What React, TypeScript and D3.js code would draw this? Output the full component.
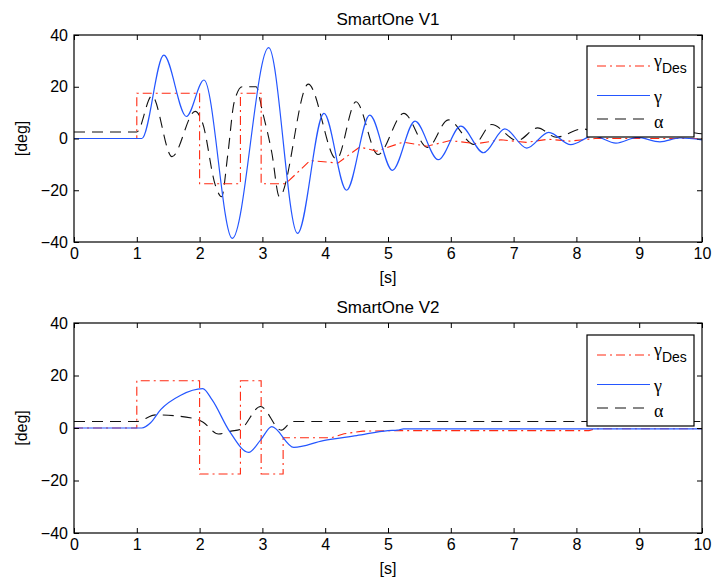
import { useRef, useEffect } from "react";
import * as d3 from "d3";

type Pt = [number, number];

const timeTicks = [0, 1, 2, 3, 4, 5, 6, 7, 8, 9, 10];
const degTicks = [-40, -20, 0, 20, 40];
const panelTitles = ["SmartOne V1", "SmartOne V2"];
const legendNames = ["γ", "γ", "α"];

// SmartOne V1 -- desired path angle, path angle, angle of attack  [t (s), deg]
const v1Des: Pt[] = [
  [0, 0], [1, 0], [1, 17.5], [2, 17.5], [2, -17.5], [2.65, -17.5], [2.65, 17.5],
  [2.98, 17.5], [2.98, -17.5], [3.37, -17.5], [3.76, -8.5], [4.2, -9.5], [4.55, -3.3],
  [4.82, -4.9], [5.24, -1.4], [5.62, -3], [5.99, -0.8], [6.41, -2], [6.8, -0.5],
  [7.2, -1.5], [7.55, -0.3], [7.9, -1], [8.3, 0], [10, 0],
];
const v1Gamma: Pt[] = [
  [0, 0], [1.08, 0], [1.43, 32.2], [1.79, 8.5], [2.07, 22.6], [2.52, -38.6], [3.1, 35.1],
  [3.56, -36.7], [3.98, 9.7], [4.34, -20], [4.71, 9], [5.07, -12.3], [5.43, 6.7],
  [5.8, -8.2], [6.16, 4.8], [6.52, -5.5], [6.86, 3.7], [7.21, -3.7], [7.56, 2.4],
  [7.91, -2.4], [8.27, 1.0], [8.63, -1.8], [8.97, 0.4], [9.33, -1.3], [9.65, 0.2], [10, -0.5],
];
const v1Alpha: Pt[] = [
  [0, 2.5], [1.0, 2.5], [1.24, 16.5], [1.56, -7], [1.93, 10.5], [2.05, 5.8], [2.25, -18],
  [2.35, -22.5], [2.45, -6], [2.55, 14], [2.68, 20], [2.9, 20], [3.0, 10.5], [3.15, -5.5],
  [3.27, -22.5], [3.73, 21], [4.18, -8], [4.49, 14.2], [4.84, -6.2], [5.25, 9.7],
  [5.63, -3.5], [5.96, 7.2], [6.37, -2.3], [6.65, 5.4], [7.06, -0.8], [7.38, 4.1],
  [7.68, 0.5], [8.1, 3.7], [8.5, 1], [8.9, 3], [9.3, 1.5], [9.7, 2.5], [10, 1.8],
];

// SmartOne V2
const v2Des: Pt[] = [
  [0, 0], [1, 0], [1, 18], [2, 18], [2, -17.5], [2.65, -17.5], [2.65, 18], [2.98, 18],
  [2.98, -17.5], [3.33, -17.5], [3.33, -3.7], [4.1, -3.7], [4.3, -2.2], [4.6, -1.2],
  [5.2, -1], [8.2, -1], [8.3, -0.3], [10, -0.3],
];
const v2Gamma: Pt[] = [
  [0, 0], [1.08, 0], [1.22, 2], [1.38, 7], [1.7, 12.5], [2.05, 15], [2.2, 10.7],
  [2.48, -1.4], [2.78, -9.3], [2.97, -4.6], [3.15, 0.5], [3.5, -7.4], [3.97, -4.8],
  [4.5, -2.9], [5.0, -1.0], [5.15, -0.8], [5.25, -0.3], [10, -0.3],
];
const v2Alpha: Pt[] = [
  [0, 2.5], [1.0, 2.5], [1.3, 5.0], [1.9, 3.7], [2.05, 2.3], [2.3, -2.3], [2.5, -1.2],
  [2.65, -0.5], [2.97, 8.2], [3.3, -0.8], [3.48, 2.5], [10, 2.5],
];

const App = () => {
  const container = useRef<SVGSVGElement>(null);
  useEffect(() => {
    createChart();
  });

  const createChart = () => {
    const svg = d3.select(container.current);
    svg.selectAll("*").remove();

    const font = "'Liberation Sans', Arial, Helvetica, sans-serif";
    const serif = "'Liberation Serif', 'Times New Roman', serif";
    const red = "#ff2a12";
    const blue = "#2456ff";

    const left = 74;
    const right = 702;

    const panels = [
      { top: 35, bottom: 242, des: v1Des, gamma: v1Gamma, alpha: v1Alpha, legTop: 46 },
      { top: 323, bottom: 533, des: v2Des, gamma: v2Gamma, alpha: v2Alpha, legTop: 335 },
    ];

    const xScale = d3.scaleLinear().domain([0, 10]).range([left, right]);

    const styles = [
      { color: red, dash: "9,4,2,4", width: 1.1 },
      { color: blue, dash: null, width: 1.2 },
      { color: "#111", dash: "11,7", width: 1.1 },
    ];

    panels.forEach((p, i) => {
      const yScale = d3.scaleLinear().domain([-40, 40]).range([p.bottom, p.top]);
      const g = svg.append("g").attr("class", `panel-${i}`);

      g.append("clipPath")
        .attr("id", `clip-${i}`)
        .append("rect")
        .attr("x", left)
        .attr("y", p.top)
        .attr("width", right - left)
        .attr("height", p.bottom - p.top);

      const plot_g = g.append("g").attr("clip-path", `url(#clip-${i})`);

      const stepLine = d3
        .line<Pt>()
        .x((d) => xScale(d[0]))
        .y((d) => yScale(d[1]));
      const smoothLine = d3
        .line<Pt>()
        .x((d) => xScale(d[0]))
        .y((d) => yScale(d[1]))
        .curve(d3.curveMonotoneX);

      const series = [
        { data: p.des, gen: stepLine },
        { data: p.gamma, gen: smoothLine },
        { data: p.alpha, gen: smoothLine },
      ];

      // alpha drawn first so gamma sits on top, like the original
      [2, 0, 1].forEach((k) => {
        plot_g
          .append("path")
          .datum(series[k].data)
          .attr("d", series[k].gen)
          .attr("fill", "none")
          .attr("stroke", styles[k].color)
          .attr("stroke-width", styles[k].width)
          .attr("stroke-dasharray", styles[k].dash);
      });

      // axes with inward ticks on all four sides
      const xaxis = d3.axisBottom(xScale).tickValues(timeTicks).tickSizeInner(-5).tickSizeOuter(0).tickPadding(6).tickFormat(d3.format("d"));
      const xaxisTop = d3.axisTop(xScale).tickValues(timeTicks).tickSizeInner(-5).tickSizeOuter(0).tickFormat(() => "");
      const yaxis = d3.axisLeft(yScale).tickValues(degTicks).tickSizeInner(-5).tickSizeOuter(0).tickPadding(6).tickFormat(d3.format("d"));
      const yaxisRight = d3.axisRight(yScale).tickValues(degTicks).tickSizeInner(-5).tickSizeOuter(0).tickFormat(() => "");

      const axes = [
        g.append("g").attr("transform", `translate(0,${p.bottom})`).call(xaxis),
        g.append("g").attr("transform", `translate(0,${p.top})`).call(xaxisTop),
        g.append("g").attr("transform", `translate(${left},0)`).call(yaxis),
        g.append("g").attr("transform", `translate(${right},0)`).call(yaxisRight),
      ];
      axes.forEach((a) => {
        a.select(".domain").remove();
        a.attr("font-size", 16).attr("font-family", font);
        a.selectAll("line").attr("stroke", "#000");
        a.selectAll("text").attr("fill", "#000");
      });

      // legend
      const lx = 587;
      const lw = 107;
      const lh = 91;
      const leg = g.append("g").attr("transform", `translate(${lx},${p.legTop})`);
      leg.append("rect").attr("width", lw).attr("height", lh).attr("fill", "#fff").attr("stroke", "#000").attr("stroke-width", 1.2);
      const rows = [20, 49.5, 73];
      const textDy = [1, 7, 9];
      rows.forEach((ry, k) => {
        leg.append("line")
          .attr("x1", 10).attr("x2", 63)
          .attr("y1", ry).attr("y2", ry)
          .attr("stroke", styles[k].color)
          .attr("stroke-width", styles[k].width)
          .attr("stroke-dasharray", styles[k].dash);
        const t = leg.append("text")
          .attr("x", 67)
          .attr("y", ry + textDy[k])
          .attr("font-family", serif)
          .attr("font-size", 18)
          .text(legendNames[k]);
        if (k === 0) {
          t.append("tspan").attr("font-family", font).attr("font-size", 14).attr("dy", 6).text("Des");
        }
      });

      // frame
      g.append("rect")
        .attr("x", left).attr("y", p.top)
        .attr("width", right - left).attr("height", p.bottom - p.top)
        .attr("fill", "none").attr("stroke", "#000").attr("stroke-width", 1.2);

      // titles & labels
      g.append("text")
        .attr("x", (left + right) / 2)
        .attr("y", p.top - 10)
        .attr("text-anchor", "middle")
        .attr("font-family", font)
        .attr("font-size", 17)
        .text(panelTitles[i]);
      g.append("text")
        .attr("x", (left + right) / 2)
        .attr("y", p.bottom + 41)
        .attr("text-anchor", "middle")
        .attr("font-family", font)
        .attr("font-size", 16)
        .text("[s]");
      g.append("text")
        .attr("transform", `translate(27,${(p.top + p.bottom) / 2}) rotate(-90)`)
        .attr("text-anchor", "middle")
        .attr("font-family", font)
        .attr("font-size", 16)
        .text("[deg]");
    });
  };

  return (
    <div style={{ position: "absolute", left: 0, top: 0 }}>
      <svg ref={container} width={715} height={586} style={{ display: "block", background: "#fff" }}></svg>
    </div>
  );
};

export default App;
